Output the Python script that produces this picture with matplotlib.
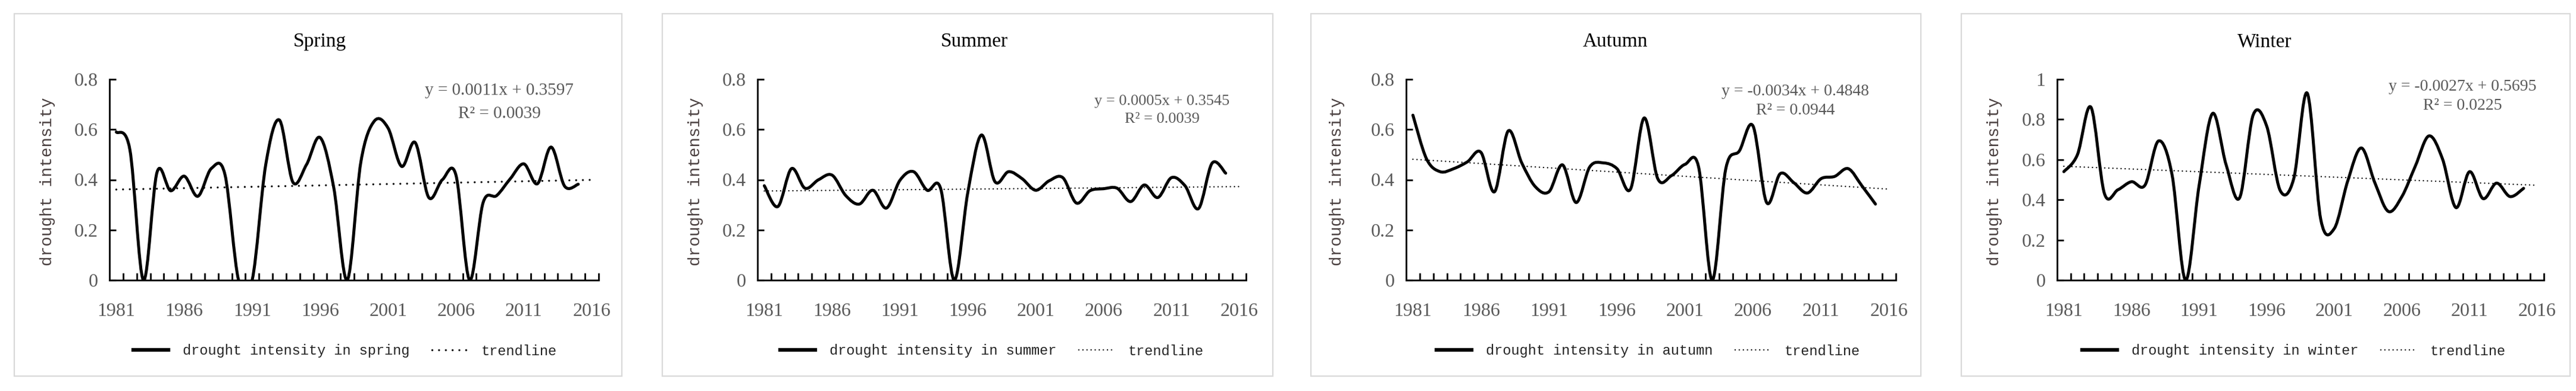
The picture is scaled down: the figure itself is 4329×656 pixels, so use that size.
import numpy as np
import matplotlib
matplotlib.use("Agg")
import matplotlib.pyplot as plt
from matplotlib.path import Path
from matplotlib.patches import PathPatch, Rectangle
from matplotlib.lines import Line2D

# ---------------- data ----------------
years = list(range(1981, 2016))          # 35 observed years
axis_years = list(range(1981, 2017))     # category axis 1981..2016
tick_label_years = [1981, 1986, 1991, 1996, 2001, 2006, 2011, 2016]

spring = [0.59, 0.52, 0.00, 0.43, 0.356, 0.414, 0.334, 0.445, 0.42, 0.00,
          0.00, 0.46, 0.638, 0.39, 0.46, 0.568, 0.37, 0.00, 0.47, 0.634,
          0.606, 0.453, 0.548, 0.329, 0.40, 0.418, 0.00, 0.309, 0.337, 0.404,
          0.463, 0.384, 0.53, 0.374, 0.382]
summer = [0.376, 0.293, 0.444, 0.366, 0.40, 0.418, 0.337, 0.303, 0.358, 0.287,
          0.398, 0.432, 0.358, 0.364, 0.00, 0.35, 0.578, 0.392, 0.432, 0.404,
          0.358, 0.396, 0.408, 0.307, 0.356, 0.364, 0.366, 0.313, 0.379, 0.329,
          0.408, 0.376, 0.285, 0.466, 0.426]
autumn = [0.657, 0.483, 0.432, 0.444, 0.471, 0.509, 0.352, 0.594, 0.467, 0.372,
          0.352, 0.459, 0.309, 0.451, 0.467, 0.444, 0.363, 0.646, 0.404, 0.416,
          0.461, 0.451, 0.00, 0.444, 0.515, 0.614, 0.309, 0.424, 0.388, 0.347,
          0.404, 0.413, 0.444, 0.376, 0.303]
winter = [0.54, 0.624, 0.861, 0.431, 0.45, 0.49, 0.473, 0.693, 0.525, 0.00,
          0.47, 0.83, 0.574, 0.41, 0.822, 0.767, 0.446, 0.505, 0.931, 0.302,
          0.257, 0.495, 0.658, 0.485, 0.342, 0.416, 0.569, 0.718, 0.604, 0.361,
          0.54, 0.406, 0.483, 0.416, 0.457]

seasons = ["Spring", "Summer", "Autumn", "Winter"]
series = [spring, summer, autumn, winter]
legend_labels = ["drought intensity in spring", "drought intensity in summer",
                 "drought intensity in autumn", "drought intensity in winter"]
trend_slope = [0.0011, 0.0005, -0.0034, -0.0027]
trend_icpt = [0.3597, 0.3545, 0.4848, 0.5695]
r2_values = ["0.0039", "0.0039", "0.0944", "0.0225"]
y_max = [0.8, 0.8, 0.8, 1.0]
y_ticks = [[0, 0.2, 0.4, 0.6, 0.8]] * 3 + [[0, 0.2, 0.4, 0.6, 0.8, 1.0]]
y_ticklabels = [["0", "0.2", "0.4", "0.6", "0.8"]] * 3 + [["0", "0.2", "0.4", "0.6", "0.8", "1"]]

# ---------------- layout (pixels) ----------------
W, H = 4329, 656
boxes = [(24, 1045), (1113, 2139), (2203, 3228), (3296, 4319)]
box_y = (23, 631)
axes_x = [(184, 1006), (1273, 2094), (2363, 3186), (3457, 4275)]
axes_y = (133, 470)
title_x = [537, 1637, 2714, 3806]
ylabel_x = [80, 1169, 2247, 3352]
eq_x = [839, 1953, 3017, 4138]
eq_y = [(152, 191), (170, 200), (153, 186), (146, 177)]
eq_size = [21, 19, 20, 20]
legend_x = [580, 1667, 2770, 3855]
# (line width in pt, gap in units of line width) for the dotted trendline
trend_dots = [(2.4, 3.4), (1.7, 2.9), (1.7, 2.9), (1.7, 2.9)]

TXT = "#595959"
SERIF = ["Liberation Serif", "DejaVu Serif"]
MONO = ["Liberation Mono", "DejaVu Sans Mono"]


def fxy(px, py):
    return px / W, 1 - py / H


def smooth_path(x, y):
    n = len(x)
    verts = [(x[0], y[0])]
    codes = [Path.MOVETO]
    for i in range(n - 1):
        xp, yp = (x[i - 1], y[i - 1]) if i > 0 else (x[i], y[i])
        xn, yn = (x[i + 2], y[i + 2]) if i + 2 < n else (x[i + 1], y[i + 1])
        c1 = (x[i] + (x[i + 1] - xp) / 6.0, y[i] + (y[i + 1] - yp) / 6.0)
        c2 = (x[i + 1] - (xn - x[i]) / 6.0, y[i + 1] - (yn - y[i]) / 6.0)
        verts += [c1, c2, (x[i + 1], y[i + 1])]
        codes += [Path.CURVE4] * 3
    return Path(verts, codes)


fig = plt.figure(figsize=(W / 100, H / 100), dpi=100)
fig.patch.set_facecolor("white")

for k in range(4):
    # panel frame
    x0, x1 = boxes[k]
    fig.patches.append(Rectangle(fxy(x0, box_y[1]), (x1 - x0) / W, (box_y[1] - box_y[0]) / H,
                                 transform=fig.transFigure, facecolor="none",
                                 edgecolor="#d9d9d9", lw=1.6, zorder=-10))
    ax0, ax1 = axes_x[k]
    left, bottom = fxy(ax0, axes_y[1])
    ax = fig.add_axes([left, bottom, (ax1 - ax0) / W, (axes_y[1] - axes_y[0]) / H])
    ax.set_facecolor("none")

    xs = np.arange(len(years), dtype=float)
    path = smooth_path(xs, np.array(series[k], dtype=float))
    patch = PathPatch(path, facecolor="none", edgecolor="black", lw=3.6,
                      capstyle="round", joinstyle="round", zorder=3)
    ax.add_patch(patch)
    patch.set_clip_box(ax.bbox)

    # trendline over whole category axis (x = 1..36 in Excel terms)
    xt = np.arange(len(axis_years), dtype=float)
    yt = trend_slope[k] * (xt + 1) + trend_icpt[k]
    lw_t, gap = trend_dots[k]
    ax.plot(xt, yt, color="black", lw=lw_t, linestyle=(0, (0.01, gap)),
            dash_capstyle="round", zorder=2)

    ax.set_xlim(-0.5, len(axis_years) - 0.5)
    ax.set_ylim(0, y_max[k])

    for s in ["top", "right"]:
        ax.spines[s].set_visible(False)
    for s in ["left", "bottom"]:
        ax.spines[s].set_linewidth(2.0)
        ax.spines[s].set_color("black")

    ax.set_xticks([axis_years.index(y) for y in tick_label_years])
    ax.set_xticklabels([str(y) for y in tick_label_years])
    ax.set_xticks(np.arange(0.5, len(axis_years), 1.0), minor=True)
    ax.tick_params(axis="x", which="major", length=0, pad=27, labelsize=23,
                   labelcolor=TXT)
    ax.tick_params(axis="x", which="minor", direction="in", length=8.5, width=2.0)
    ax.set_yticks(y_ticks[k])
    ax.set_yticklabels(y_ticklabels[k])
    ax.tick_params(axis="y", which="major", direction="in", length=8, width=2.0,
                   pad=14, labelsize=23, labelcolor=TXT)
    for lab in ax.get_xticklabels() + ax.get_yticklabels():
        lab.set_family(SERIF)

    # texts
    fig.text(*fxy(title_x[k], 70), seasons[k], ha="center", va="center",
             fontsize=24, family=SERIF, color="black")
    fig.text(*fxy(ylabel_x[k], 305), "drought intensity", rotation=90,
             ha="center", va="center", fontsize=20, family=MONO, color="#4a4040")
    s = trend_slope[k]
    sign = "-" if s < 0 else ""
    eq1 = f"y = {sign}{abs(s):.4f}x + {trend_icpt[k]:.4f}"
    fig.text(*fxy(eq_x[k], eq_y[k][0]), eq1, ha="center", va="center",
             fontsize=eq_size[k], family=SERIF, color=TXT)
    fig.text(*fxy(eq_x[k], eq_y[k][1]), f"R\u00b2 = {r2_values[k]}", ha="center",
             va="center", fontsize=eq_size[k], family=SERIF, color=TXT)

    handles = [Line2D([], [], color="black", lw=4.5),
               Line2D([], [], color="black", lw=lw_t, linestyle=(0, (0.01, gap)),
                      dash_capstyle="round")]
    leg = fig.legend(handles, [legend_labels[k], "trendline"], loc="center",
                     bbox_to_anchor=fxy(legend_x[k], 589), bbox_transform=fig.transFigure,
                     ncol=2, frameon=False, handlelength=2.5, handletextpad=1.0,
                     columnspacing=1.6, prop={"family": MONO, "size": 17})
    for t in leg.get_texts():
        t.set_color("#262626")

fig.savefig("out.png", dpi=100, facecolor="white")
